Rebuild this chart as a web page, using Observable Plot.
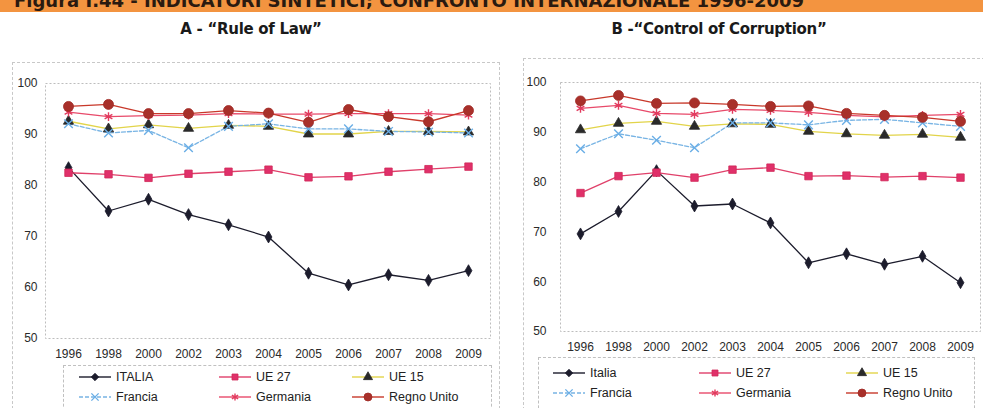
<!DOCTYPE html>
<html>
<head>
<meta charset="utf-8">
<script src="https://cdn.jsdelivr.net/npm/d3@7"></script>
<script src="https://cdn.jsdelivr.net/npm/@observablehq/plot@0.6"></script>
<style>
  html, body { margin: 0; padding: 0; background: #fff; }
  body { width: 983px; height: 408px; position: relative; overflow: hidden; font-family: "Liberation Sans", Arial, sans-serif; }
  #header { position: absolute; left: 0; top: 0; width: 983px; height: 12px; background: #f39440; overflow: hidden; }
  #header span { position: absolute; left: 14px; top: -10px; font: bold 18px "DejaVu Sans", sans-serif; color: #2a1a10; white-space: nowrap; letter-spacing: 0px; }
  .title { position: absolute; top: 20px; font: bold 15px "DejaVu Sans", sans-serif; color: #1a1a1a; white-space: nowrap; transform: translateX(-50%); letter-spacing: -0.3px; }
  .frame { position: absolute; border: 1px dashed #c8c8c8; }
  .chart { position: absolute; }
  .legend { position: absolute; border-top: 1px dashed #c0c0c0; border-left: 1px dashed #c0c0c0; border-right: 1px dashed #c0c0c0; }
  .item { position: absolute; font-size: 12.5px; color: #222; white-space: nowrap; display: flex; align-items: center; }
  .item svg { margin-right: 5px; }
</style>
</head>
<body>
<div id="header"><span>Figura I.44 - INDICATORI SINTETICI; CONFRONTO INTERNAZIONALE 1996-2009</span></div>
<div class="title" style="left:251px">A - “Rule of Law”</div>
<div class="title" style="left:719px">B -“Control of Corruption”</div>
<div class="frame" style="left:12px; top:62px; width:486px; height:360px"></div>
<div class="frame" style="left:523px; top:58px; width:470px; height:360px"></div>
<div id="chartA" class="chart" style="left:0px; top:60px"></div>
<div id="chartB" class="chart" style="left:500px; top:60px"></div>
<div id="legendA" class="legend" style="left:63px; top:365px; width:427px; height:60px"></div>
<div id="legendB" class="legend" style="left:538px; top:357px; width:435px; height:60px"></div>
<script>
const years = ["1996","1998","2000","2002","2003","2004","2005","2006","2007","2008","2009"];
const seriesNamesA = ["ITALIA","UE 27","UE 15","Francia","Germania","Regno Unito"];
const seriesNamesB = ["Italia","UE 27","UE 15","Francia","Germania","Regno Unito"];

// A - Rule of Law
const ruleItalia   = [83.5,75.0,77.3,74.3,72.3,69.9,62.8,60.5,62.5,61.4,63.3];
const ruleUE27     = [82.5,82.2,81.5,82.3,82.7,83.1,81.6,81.8,82.7,83.2,83.7];
const ruleUE15     = [92.6,91.1,91.9,91.2,91.8,91.6,90.1,90.1,90.6,90.6,90.5];
const ruleFrancia  = [92.1,90.3,90.8,87.4,91.6,92.1,91.1,91.1,90.6,90.5,90.3];
const ruleGermania = [94.4,93.5,93.7,93.8,94.1,94.0,94.0,94.1,94.1,94.1,93.8];
const ruleRegno    = [95.5,95.9,94.1,94.1,94.7,94.2,92.4,94.9,93.5,92.5,94.7];

// B - Control of Corruption
const corrItalia   = [69.6,74.1,82.3,75.2,75.6,71.8,63.8,65.6,63.5,65.1,59.8];
const corrUE27     = [77.8,81.2,81.9,80.9,82.5,82.9,81.2,81.3,81.0,81.2,80.9];
const corrUE15     = [90.5,91.8,92.2,91.2,91.7,91.6,90.2,89.7,89.4,89.6,89.0];
const corrFrancia  = [86.7,89.7,88.4,86.9,91.9,91.9,91.5,92.4,92.6,91.9,91.2];
const corrGermania = [94.8,95.4,93.8,93.6,94.6,94.4,94.0,93.4,93.1,93.4,93.6];
const corrRegno    = [96.3,97.4,95.8,95.9,95.6,95.2,95.3,93.8,93.4,93.0,92.2];

const yTicks = [50,60,70,80,90,100];

// styles per series index
const styles = [
  {line:"#1c1c2c", symbol:"diamond", fill:"#1c1c2c", stroke:"#1c1c2c", r:3.6, dash:null},
  {line:"#e0406a", symbol:"square", fill:"#e0306a", stroke:"#d02858", r:4.2, dash:null},
  {line:"#e2d44a", symbol:"triangle", fill:"#2a2a2a", stroke:"#2a2a2a", r:3.8, dash:null},
  {line:"#78b4e4", symbol:"times", fill:"none", stroke:"#6aaee6", r:4, dash:"4,2"},
  {line:"#e84a6a", symbol:"asterisk", fill:"none", stroke:"#e23a5e", r:4.2, dash:null},
  {line:"#c8382a", symbol:"circle", fill:"#a8302a", stroke:"#a02a24", r:5, dash:null}
];

function buildRows(names, arrays) {
  const rows = [];
  names.forEach((n, i) => arrays[i].forEach((v, j) => rows.push({series: i, name: n, year: years[j], value: v})));
  return rows;
}

function makeChart(names, arrays, opts) {
  const rows = buildRows(names, arrays);
  const marks = [
    Plot.frame({stroke: "#bdbdbd", strokeDasharray: "2,2"})
  ];
  styles.forEach((s, i) => {
    const d = rows.filter(r => r.series === i);
    marks.push(Plot.line(d, {x: "year", y: "value", stroke: s.line, strokeWidth: 1.3, strokeDasharray: s.dash}));
  });
  styles.forEach((s, i) => {
    const d = rows.filter(r => r.series === i);
    marks.push(Plot.dot(d, {x: "year", y: "value", symbol: () => s.symbol, r: s.r, fill: s.fill, stroke: s.stroke, strokeWidth: s.fill === "none" ? 1.4 : 0.8}));
  });
  return Plot.plot({
    width: opts.width,
    height: opts.height,
    marginLeft: opts.ml,
    marginRight: opts.mr,
    marginTop: opts.mt,
    marginBottom: opts.mb,
    style: {fontFamily: "'Liberation Sans', Arial, sans-serif", fontSize: "12px", color: "#2a2a2a", background: "transparent"},
    symbol: {type: "identity"},
    x: {type: "point", domain: years, padding: opts.pad, label: null, tickSize: 0, tickPadding: 11},
    y: {domain: [50, 100], ticks: yTicks, label: null, tickSize: 0, tickPadding: opts.tp},
    marks
  });
}

document.getElementById("chartA").appendChild(
  makeChart(seriesNamesA, [ruleItalia, ruleUE27, ruleUE15, ruleFrancia, ruleGermania, ruleRegno],
    {width: 500, height: 305, ml: 45, mr: 10, mt: 23, mb: 27, pad: 0.53, tp: 8})
);
document.getElementById("chartB").appendChild(
  makeChart(seriesNamesB, [corrItalia, corrUE27, corrUE15, corrFrancia, corrGermania, corrRegno],
    {width: 483, height: 300, ml: 60, mr: 3, mt: 22, mb: 29, pad: 0.5, tp: 14})
);

function legendSymbol(s) {
  const w = 32, h = 12, cx = w / 2, cy = h / 2;
  const sym = d3.symbol().type({
    diamond: d3.symbolDiamond2, square: d3.symbolSquare, triangle: d3.symbolTriangle,
    times: d3.symbolTimes, asterisk: d3.symbolAsterisk, circle: d3.symbolCircle
  }[s.symbol]).size(s.symbol === "circle" ? 50 : 36)();
  return `<svg width="${w}" height="${h}"><line x1="0" y1="${cy}" x2="${w}" y2="${cy}" stroke="${s.line}" stroke-width="1.4" ${s.dash ? `stroke-dasharray="${s.dash}"` : ""}/>` +
    `<path d="${sym}" transform="translate(${cx},${cy})" fill="${s.fill}" stroke="${s.stroke}" stroke-width="${s.fill === "none" ? 1.4 : 0.8}"/></svg>`;
}

function makeLegend(el, names, cols, rowsY) {
  names.forEach((n, i) => {
    const d = document.createElement("div");
    d.className = "item";
    d.style.left = cols[i % 3] + "px";
    d.style.top = rowsY[Math.floor(i / 3)] + "px";
    d.innerHTML = legendSymbol(styles[i]) + `<span>${n}</span>`;
    el.appendChild(d);
  });
}
makeLegend(document.getElementById("legendA"), seriesNamesA, [15, 155, 288], [4, 24]);
makeLegend(document.getElementById("legendB"), seriesNamesB, [14, 160, 307], [8, 28]);
</script>
</body>
</html>
